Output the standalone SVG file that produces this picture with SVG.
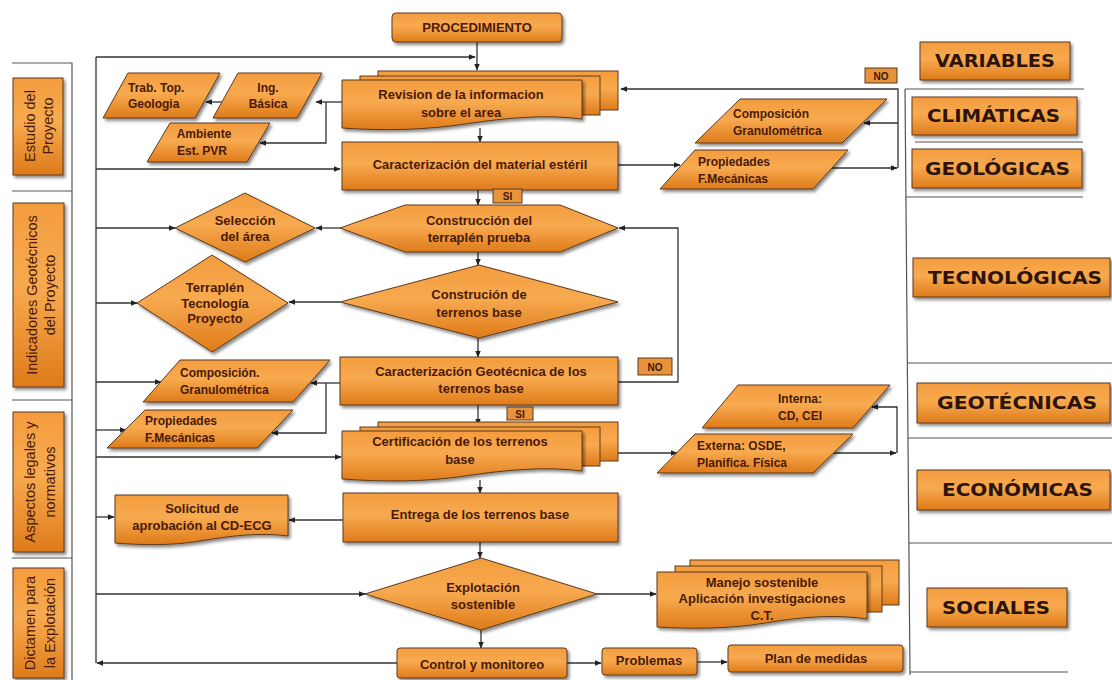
<svg xmlns="http://www.w3.org/2000/svg" width="1112" height="680" viewBox="0 0 1112 680">
<style>
.n{fill:url(#og);stroke:#5c3a1e;stroke-width:1;filter:url(#sh)}
.b{fill:url(#og);stroke:#5c3a1e;stroke-width:1}
.t{font-family:"Liberation Sans",Arial,sans-serif;font-weight:bold;font-size:13px;fill:#4a1a08;text-anchor:middle}
.s{font-family:"Liberation Sans",Arial,sans-serif;font-weight:bold;font-size:12px;fill:#4a1a08}
.l{font-family:"Liberation Sans",Arial,sans-serif;font-size:14.5px;fill:#4a1a08;text-anchor:middle}
.v{font-family:"DejaVu Sans",Verdana,sans-serif;font-weight:bold;font-size:17px;fill:#2e1408}
.lab{fill:#e8923a;stroke:#5c3a1e;stroke-width:1}
.lt{font-family:"Liberation Sans",Arial,sans-serif;font-weight:bold;font-size:10px;fill:#3d1a0a;text-anchor:middle}
.c{fill:none;stroke:#333;stroke-width:1.3}
.c2{fill:none;stroke:#333;stroke-width:1.3;marker-end:url(#ah)}
.f{fill:none;stroke:#555;stroke-width:1.2}
</style>
<defs>
<linearGradient id="og" x1="0" y1="0" x2="0" y2="1">
<stop offset="0" stop-color="#F39C3E"/>
<stop offset="0.45" stop-color="#F8AA50"/>
<stop offset="1" stop-color="#DE7B1A"/>
</linearGradient>
<filter id="sh" x="-10%" y="-15%" width="125%" height="145%">
<feDropShadow dx="2" dy="2.5" stdDeviation="1.5" flood-color="#000" flood-opacity="0.45"/>
</filter>
<marker id="ah" viewBox="0 0 10 10" refX="9" refY="5" markerWidth="7" markerHeight="7" orient="auto" markerUnits="userSpaceOnUse">
<path d="M0,1 L10,5 L0,9 z" fill="#222"/>
</marker>
</defs>
<rect width="1112" height="680" fill="#fff"/>

<g id="frame">
<path class="f" d="M12 63 H72 V680"/>
<path class="f" d="M12 191 H72"/>
<path class="f" d="M12 400 H72"/>
<path class="f" d="M12 558 H72"/>
<path class="f" d="M905 89 H1084"/>
<path class="f" d="M905 89 L910 675"/>
<path class="f" d="M915 142 H1083"/>
<path class="f" d="M906 197 H1083"/>
<path class="f" d="M907 363 H1112"/>
<path class="f" d="M908 438 H1112"/>
<path class="f" d="M909 543 H1112"/>
<path class="f" d="M910 672 H1068"/>
</g>

<g id="connectors">
<path class="c" d="M96 57 V663"/>
<path class="c2" d="M96 57 H475"/>
<path class="c2" d="M477 42 V70"/>
<path class="c2" d="M480 128 V142"/>
<path class="c2" d="M342 102 H316"/>
<path class="c2" d="M222 102 H206"/>
<path class="c2" d="M326 102 V143 H260"/>
<path class="c2" d="M96 169 H340"/>
<path class="c2" d="M618 165 H680"/>
<path class="c2" d="M832 168 H897"/>
<path class="c2" d="M898 168 V89 H621"/>
<path class="c2" d="M898 123 H864"/>
<path class="c2" d="M478 190 V205"/>
<path class="c2" d="M340 228 H316"/>
<path class="c2" d="M96 228 H175"/>
<path class="c2" d="M478 252 V265"/>
<path class="c2" d="M340 302 H289"/>
<path class="c2" d="M96 303 H137"/>
<path class="c2" d="M478 338 V357"/>
<path class="c2" d="M618 382 H678 V228 H619"/>
<path class="c2" d="M340 383 H311"/>
<path class="c2" d="M326 383 V433 H272"/>
<path class="c2" d="M96 382 H161"/>
<path class="c2" d="M96 430 H126"/>
<path class="c2" d="M96 457 H341"/>
<path class="c2" d="M478 405 V425"/>
<path class="c2" d="M618 453 H677"/>
<path class="c2" d="M833 453 H896"/>
<path class="c2" d="M897 453 V407 H872"/>
<path class="c2" d="M480 480 V493"/>
<path class="c2" d="M343 520 H289"/>
<path class="c2" d="M96 517 H114"/>
<path class="c2" d="M480 542 V558"/>
<path class="c2" d="M96 594 H365"/>
<path class="c2" d="M597 594 H656"/>
<path class="c2" d="M481 630 V648"/>
<path class="c2" d="M397 663 H97"/>
<path class="c2" d="M567 663 H601"/>
<path class="c2" d="M697 662 H727"/>
</g>

<g id="lbl-estudio">
<rect class="n" x="13" y="78" width="50" height="97"/>
<text class="l" transform="translate(35,126) rotate(-90)">Estudio del</text>
<text class="l" transform="translate(53,126) rotate(-90)">Proyecto</text>
</g>
<g id="lbl-indicadores">
<rect class="n" x="13" y="203" width="51" height="184"/>
<text class="l" transform="translate(37,295) rotate(-90)" font-size="15.5">Indicadores Geotécnicos</text>
<text class="l" transform="translate(55,295) rotate(-90)" font-size="15.5">del Proyecto</text>
</g>
<g id="lbl-aspectos">
<rect class="n" x="13" y="412" width="51" height="140"/>
<text class="l" transform="translate(35,482) rotate(-90)">Aspectos legales y</text>
<text class="l" transform="translate(55,482) rotate(-90)">normativos</text>
</g>
<g id="lbl-dictamen">
<rect class="n" x="13" y="568" width="51" height="110"/>
<text class="l" transform="translate(35,623) rotate(-90)">Dictamen para</text>
<text class="l" transform="translate(55,623) rotate(-90)">la Explotación</text>
</g>

<g id="procedimiento">
<rect class="n" x="392" y="13" width="170" height="29" rx="4"/>
<text class="t" x="477" y="32" font-size="12.5">PROCEDIMIENTO</text>
</g>

<g id="revision">
<rect class="b" x="378" y="71" width="240" height="39"/>
<rect class="b" x="360" y="76" width="240" height="39"/>
<path class="n" d="M342 80 H582 V119 C545 114 505 118 465 124 C425 130 385 131 342 128 Z"/>
<text class="t" x="461" y="99">Revision de la informacion</text>
<text class="t" x="461" y="117">sobre el area</text>
</g>

<g id="trab">
<polygon class="n" points="128,73 220,73 195,118 103,118"/>
<text class="s" x="128" y="92">Trab. Top.</text>
<text class="s" x="128" y="108">Geologia</text>
</g>
<g id="ing">
<polygon class="n" points="238,73 322,73 297,118 213,118"/>
<text class="s" x="268" y="92" text-anchor="middle">Ing.</text>
<text class="s" x="268" y="108" text-anchor="middle">Básica</text>
</g>
<g id="ambiente">
<polygon class="n" points="170,123 270,123 247,162 147,162"/>
<text class="s" x="204" y="138" text-anchor="middle">Ambiente</text>
<text class="s" x="202" y="155" text-anchor="middle">Est. PVR</text>
</g>

<g id="caract-material">
<rect class="n" x="342" y="142" width="276" height="48"/>
<text class="t" x="480" y="169">Caracterización del material estéril</text>
</g>

<g id="comp-top">
<polygon class="n" points="740,99 887,99 842,143 695,143"/>
<text class="s" x="733" y="118">Composición</text>
<text class="s" x="733" y="135">Granulométrica</text>
</g>
<g id="prop-top">
<polygon class="n" points="695,150 848,150 813,189 660,189"/>
<text class="s" x="698" y="166">Propiedades</text>
<text class="s" x="698" y="183">F.Mecánicas</text>
</g>

<g id="no-top">
<rect class="lab" x="865" y="68" width="32" height="15"/>
<text class="lt" x="881" y="79.5">NO</text>
</g>
<g id="si-1">
<rect class="lab" x="493" y="189" width="29" height="14"/>
<text class="lt" x="507.5" y="200">SI</text>
</g>

<g id="construccion-terraplen">
<polygon class="n" points="340,228 405,205 560,205 618,228 560,252 405,252"/>
<text class="t" x="479" y="225">Construcción del</text>
<text class="t" x="479" y="242">terraplén  prueba</text>
</g>
<g id="seleccion">
<polygon class="n" points="175,228 245,193 315,228 245,262"/>
<text class="t" x="245" y="225" font-size="11.5">Selección</text>
<text class="t" x="245" y="241" font-size="11.5">del área</text>
</g>

<g id="construccion-terrenos">
<polygon class="n" points="340,302 479,265 618,302 479,338"/>
<text class="t" x="479" y="299">Construción de</text>
<text class="t" x="479" y="317">terrenos base</text>
</g>
<g id="terraplen">
<polygon class="n" points="137,303 212,255 288,303 212,352"/>
<text class="t" x="215" y="292" font-size="12">Terraplén</text>
<text class="t" x="215" y="308" font-size="12">Tecnología</text>
<text class="t" x="215" y="323" font-size="12">Proyecto</text>
</g>

<g id="caract-geo">
<rect class="n" x="340" y="357" width="278" height="48"/>
<text class="t" x="481" y="376">Caracterización Geotécnica de los</text>
<text class="t" x="481" y="393">terrenos base</text>
</g>
<g id="no-mid">
<rect class="lab" x="638" y="358" width="34" height="17"/>
<text class="lt" x="655" y="370.5">NO</text>
</g>
<g id="si-2">
<rect class="lab" x="507" y="407" width="26" height="13"/>
<text class="lt" x="520" y="417.5">SI</text>
</g>

<g id="comp-left">
<polygon class="n" points="180,360 330,360 293,402 143,402"/>
<text class="s" x="180" y="377">Composición.</text>
<text class="s" x="180" y="394">Granulométrica</text>
</g>
<g id="prop-left">
<polygon class="n" points="145,410 293,410 257,448 107,448"/>
<text class="s" x="145" y="425">Propiedades</text>
<text class="s" x="145" y="442">F.Mecánicas</text>
</g>

<g id="certificacion">
<rect class="b" x="378" y="422" width="240" height="39"/>
<rect class="b" x="360" y="427" width="240" height="39"/>
<path class="n" d="M342 431 H582 V471 C545 466 505 470 465 476 C425 482 385 482 342 479 Z"/>
<text class="t" x="460" y="446">Certificación de los terrenos</text>
<text class="t" x="460" y="464">base</text>
</g>

<g id="interna">
<polygon class="n" points="738,385 890,385 853,428 702,428"/>
<text class="s" x="778" y="403">Interna:</text>
<text class="s" x="778" y="420">CD, CEI</text>
</g>
<g id="externa">
<polygon class="n" points="695,434 853,434 813,473 657,473"/>
<text class="s" x="697" y="450">Externa:  OSDE,</text>
<text class="s" x="697" y="467">Planifica. Física</text>
</g>

<g id="entrega">
<rect class="n" x="343" y="493" width="275" height="49"/>
<text class="t" x="480" y="519">Entrega de los terrenos base</text>
</g>
<g id="solicitud">
<path class="n" d="M115 495 H288 V536 C260 532 230 536 200 541 C170 546 140 545 115 543 Z"/>
<text class="t" x="202" y="513" font-size="13.5">Solicitud de</text>
<text class="t" x="202" y="530" font-size="13.5">aprobación al CD-ECG</text>
</g>

<g id="explotacion">
<polygon class="n" points="365,594 481,558 597,594 481,630"/>
<text class="t" x="483" y="592">Explotación</text>
<text class="t" x="483" y="609">sostenible</text>
</g>

<g id="manejo">
<rect class="b" x="690" y="560" width="209" height="45"/>
<rect class="b" x="675" y="566" width="207" height="46"/>
<path class="n" d="M657 572 H867 V619 C835 614 800 617 765 623 C730 629 690 629 657 627 Z"/>
<text class="t" x="762" y="587">Manejo sostenible</text>
<text class="t" x="762" y="603">Aplicación investigaciones</text>
<text class="t" x="762" y="620">C.T.</text>
</g>

<g id="control">
<rect class="n" x="397" y="648" width="170" height="30" rx="3"/>
<text class="t" x="482" y="669">Control y monitoreo</text>
</g>
<g id="problemas">
<rect class="n" x="602" y="648" width="95" height="27" rx="3"/>
<text class="t" x="649" y="665">Problemas</text>
</g>
<g id="plan">
<rect class="n" x="728" y="645" width="175" height="27" rx="3"/>
<text class="t" x="816" y="663">Plan de medidas</text>
</g>

<g id="var-variables">
<rect class="n" x="920" y="42" width="150" height="38"/>
<text class="v" x="935" y="67" textLength="120" lengthAdjust="spacingAndGlyphs">VARIABLES</text>
</g>
<g id="var-climaticas">
<rect class="n" x="912" y="97" width="165" height="38"/>
<text class="v" x="927" y="122" textLength="133" lengthAdjust="spacingAndGlyphs">CLIMÁTICAS</text>
</g>
<g id="var-geologicas">
<rect class="n" x="912" y="149" width="170" height="39"/>
<text class="v" x="925" y="175" textLength="145" lengthAdjust="spacingAndGlyphs">GEOLÓGICAS</text>
</g>
<g id="var-tecnologicas">
<rect class="n" x="913" y="258" width="197" height="39"/>
<text class="v" x="928" y="284" textLength="174" lengthAdjust="spacingAndGlyphs">TECNOLÓGICAS</text>
</g>
<g id="var-geotecnicas">
<rect class="n" x="917" y="383" width="193" height="40"/>
<text class="v" x="937" y="409" textLength="160" lengthAdjust="spacingAndGlyphs">GEOTÉCNICAS</text>
</g>
<g id="var-economicas">
<rect class="n" x="917" y="470" width="193" height="40"/>
<text class="v" x="942" y="496" textLength="151" lengthAdjust="spacingAndGlyphs">ECONÓMICAS</text>
</g>
<g id="var-sociales">
<rect class="n" x="927" y="588" width="140" height="39"/>
<text class="v" x="942" y="614" textLength="108" lengthAdjust="spacingAndGlyphs">SOCIALES</text>
</g>
</svg>
